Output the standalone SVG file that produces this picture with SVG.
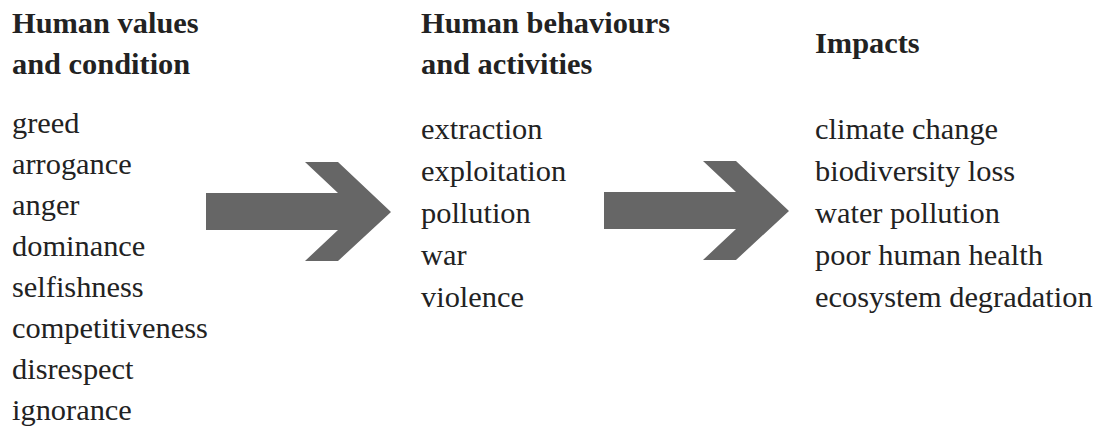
<svg xmlns="http://www.w3.org/2000/svg" width="1098" height="436" viewBox="0 0 1098 436">
  <style>
    .head { font-family: "Liberation Serif", "Times New Roman", serif; font-weight: bold; font-size: 30.4px; fill: #222; }
    .item { font-family: "Liberation Serif", "Times New Roman", serif; font-size: 30.4px; fill: #222; }
    .arrow { fill: #666; }
  </style>
  <defs>
    <polygon id="bigArrow" points="0,31 132,31 99,0 132,0 185,50 132,99 99,99 132,68 0,68"/>
  </defs>
  <rect width="1098" height="436" fill="#fff"/>

  <g id="values">
    <text class="head" x="12" y="33">Human values</text>
    <text class="head" x="12" y="74">and condition</text>
    <text class="item" x="12" y="133">greed</text>
    <text class="item" x="12" y="174">arrogance</text>
    <text class="item" x="12" y="215">anger</text>
    <text class="item" x="12" y="256">dominance</text>
    <text class="item" x="12" y="297">selfishness</text>
    <text class="item" x="12" y="338">competitiveness</text>
    <text class="item" x="12" y="379">disrespect</text>
    <text class="item" x="12" y="420">ignorance</text>
  </g>

  <g id="behaviours">
    <text class="head" x="421" y="33">Human behaviours</text>
    <text class="head" x="421" y="74">and activities</text>
    <text class="item" x="421" y="139">extraction</text>
    <text class="item" x="421" y="181">exploitation</text>
    <text class="item" x="421" y="223">pollution</text>
    <text class="item" x="421" y="265">war</text>
    <text class="item" x="421" y="307">violence</text>
  </g>

  <g id="impacts">
    <text class="head" x="815" y="53">Impacts</text>
    <text class="item" x="815" y="139">climate change</text>
    <text class="item" x="815" y="181">biodiversity loss</text>
    <text class="item" x="815" y="223">water pollution</text>
    <text class="item" x="815" y="265">poor human health</text>
    <text class="item" x="815" y="307">ecosystem degradation</text>
  </g>

  <g id="connectors">
    <use href="#bigArrow" class="arrow" x="206" y="162"/>
    <use href="#bigArrow" class="arrow" x="604" y="161"/>
  </g>
</svg>
